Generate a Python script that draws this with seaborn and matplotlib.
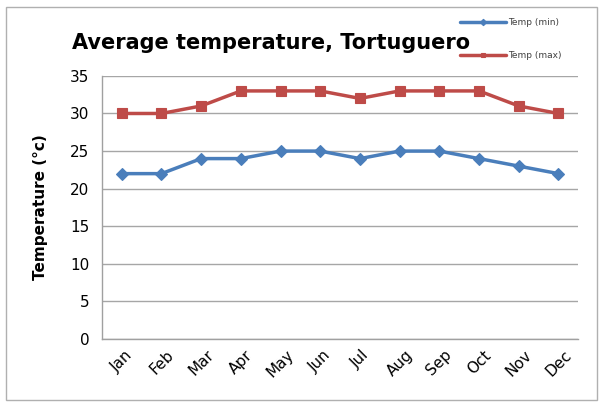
import pandas as pd
import numpy as np
import seaborn as sns
import matplotlib.pyplot as plt
from matplotlib.patches import Rectangle

months = ["Jan", "Feb", "Mar", "Apr", "May", "Jun", "Jul", "Aug", "Sep", "Oct", "Nov", "Dec"]
temp_min = [22, 22, 24, 24, 25, 25, 24, 25, 25, 24, 23, 22]
temp_max = [30, 30, 31, 33, 33, 33, 32, 33, 33, 33, 31, 30]
series = ["Temp (min)", "Temp (max)"]

df = pd.DataFrame({
    "month": list(range(12)) * 2,
    "temp": temp_min + temp_max,
    "series": [series[0]] * 12 + [series[1]] * 12,
})

sns.set_style("white")
fig = plt.figure(figsize=(6.03, 4.08), dpi=100)
ax = fig.add_axes([0.169, 0.169, 0.790, 0.645])

pal = {series[0]: "#4a7ebb", series[1]: "#be4b48"}
sns.lineplot(df, x="month", y="temp", hue="series", style="series",
             markers={series[0]: "D", series[1]: "s"}, dashes=False,
             palette=pal, linewidth=2.5, markersize=6.5, markeredgewidth=0.8,
             ax=ax, legend=True)
for ln in ax.lines:
    ln.set_markeredgecolor(ln.get_color())

ax.set_xlim(-0.5, 11.5)
ax.set_ylim(0, 35)
ax.set_yticks(range(0, 36, 5))
ax.set_xticks(range(12))
ax.set_xticklabels(months, rotation=45, fontsize=11, color="black")
ax.set_xticks(np.arange(-0.5, 12, 1), minor=True)
ax.tick_params(axis="x", which="major", length=0, pad=6)
ax.tick_params(axis="x", which="minor", length=5, color="#a0a0a0", width=1)
ax.tick_params(axis="y", length=4, color="#a0a0a0", labelsize=11, pad=5, labelcolor="black")
ax.yaxis.grid(True, color="#a6a6a6", linewidth=1)
for s in ["top", "right"]:
    ax.spines[s].set_visible(False)
for s in ["left", "bottom"]:
    ax.spines[s].set_color("#a0a0a0")
    ax.spines[s].set_linewidth(1)
ax.set_xlabel("")
ax.set_ylabel("Temperature (°c)", fontsize=11, fontweight="bold", labelpad=16, color="black")

handles, labels = ax.get_legend_handles_labels()
ax.legend_.remove()
leg = fig.legend(handles, labels, loc="upper left", bbox_to_anchor=(0.75, 0.975),
                 frameon=False, fontsize=6.5, labelspacing=2.6, handlelength=5,
                 markerscale=0.5, handletextpad=0.3)
for t in leg.get_texts():
    t.set_color("#404040")

fig.text(0.45, 0.895, "Average temperature, Tortuguero", ha="center", va="center",
         fontsize=15, fontweight="bold", color="black")

fig.patches.append(Rectangle((0.01, 0.02), 0.98, 0.963, transform=fig.transFigure,
                             fill=False, edgecolor="#b0b0b0", linewidth=1))

fig.savefig("out.png", dpi=100)
